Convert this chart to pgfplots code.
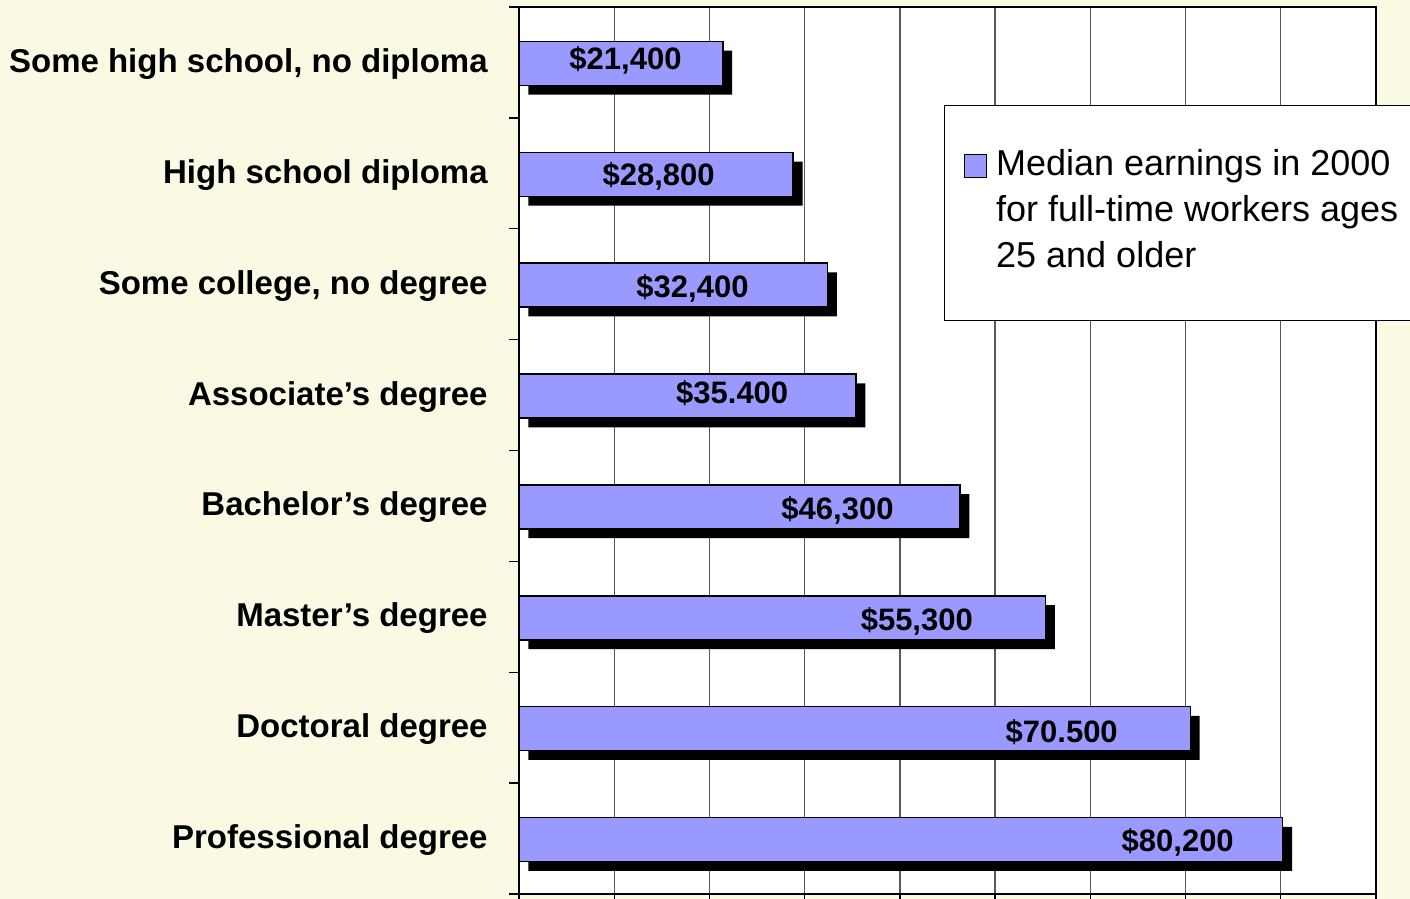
\documentclass[border=0pt]{standalone}
\usepackage{fontspec}
\setmainfont{Liberation Sans}
\usepackage{pgfplots}
\pgfplotsset{compat=1.18}
\definecolor{bg}{RGB}{250,250,228}
\definecolor{barblue}{RGB}{153,153,255}
\begin{document}
\begin{tikzpicture}
\path[use as bounding box, fill=bg] (0,0) rectangle (705bp,449.5bp);
\begin{axis}[
  at={(259.5bp,2.5bp)}, anchor=south west,
  scale only axis, width=428.5bp, height=443.5bp,
  xmin=0, xmax=90000, ymin=-0.5, ymax=7.5,
  xtick={0,10000,...,90000}, xticklabels={}, scaled x ticks=false,
  xtick pos=bottom, ytick pos=left,
  xmajorgrids, major grid style={black!65, line width=0.7bp},
  ytick={0,...,7},
  yticklabels={{Professional degree},{Doctoral degree},{Master's degree},{Bachelor's degree},{Associate's degree},{Some college, no degree},{High school diploma},{Some high school, no diploma}},
  minor ytick={-0.5,0.5,...,7.5},
  tick align=outside, major tick length=5bp, minor tick length=5bp,
  tick style={black, line width=0.7bp},
  major y tick style={draw=none},
  axis line style={line width=1.2bp},
  axis background/.style={fill=white},
  yticklabel style={font=\bfseries\fontsize{16.5bp}{20bp}\selectfont, anchor=base east, inner sep=0pt, yshift=-5bp, xshift=-10.5bp},
  legend style={at={(0.4959,0.8895)}, anchor=north west, draw=black, line width=0.6bp, fill=white, inner sep=0pt, /tikz/column sep=0pt, nodes={inner sep=0pt, text depth={}, text height={}}, cells={anchor=base west}, font=\fontsize{18bp}{23bp}\selectfont},
]
\addplot[xbar, bar width=22bp, bar shift=-0.5bp, fill=black, draw=none, xshift=4.7bp, yshift=-4.6bp, forget plot] coordinates {(80200,0) (70500,1) (55300,2) (46300,3) (35400,4) (32400,5) (28800,6) (21400,7)};
\addplot[xbar, bar width=22bp, bar shift=-0.5bp, fill=barblue, draw=black, line width=0.8bp,
  legend image code/.code={\draw[black, line width=0.8bp, fill=barblue] (0bp,-1bp) rectangle (11bp,10.5bp); \path (-9.5bp,0) (15.5bp,0);}] coordinates {(80200,0) (70500,1) (55300,2) (46300,3) (35400,4) (32400,5) (28800,6) (21400,7)};
\addlegendentry{\begin{tabular}[t]{@{}l@{\hspace{12bp}}}\rule{0pt}{35bp}Median earnings in 2000\\for full-time workers ages\\25 and older\rule[-26.5bp]{0pt}{26.5bp}\end{tabular}}
\addplot[only marks, mark=*, mark size=0pt, mark options={draw=none, fill=none}, forget plot,
  point meta=explicit symbolic, nodes near coords={\$\pgfplotspointmeta},
  every node near coord/.append style={anchor=base, yshift=-5.55bp, inner sep=0pt, text=black, font=\bfseries\fontsize{15.5bp}{18bp}\selectfont}]
  table[meta=lab] {
x y lab
69177 -0.021 80,200
56995 0.968 70.500
41777 1.976 55,300
33449 2.982 46,300
22390 4.024 35.400
18221 4.978 32,400
14671 5.986 28,800
11185 7.038 21,400
};
\end{axis}
\end{tikzpicture}
\end{document}
